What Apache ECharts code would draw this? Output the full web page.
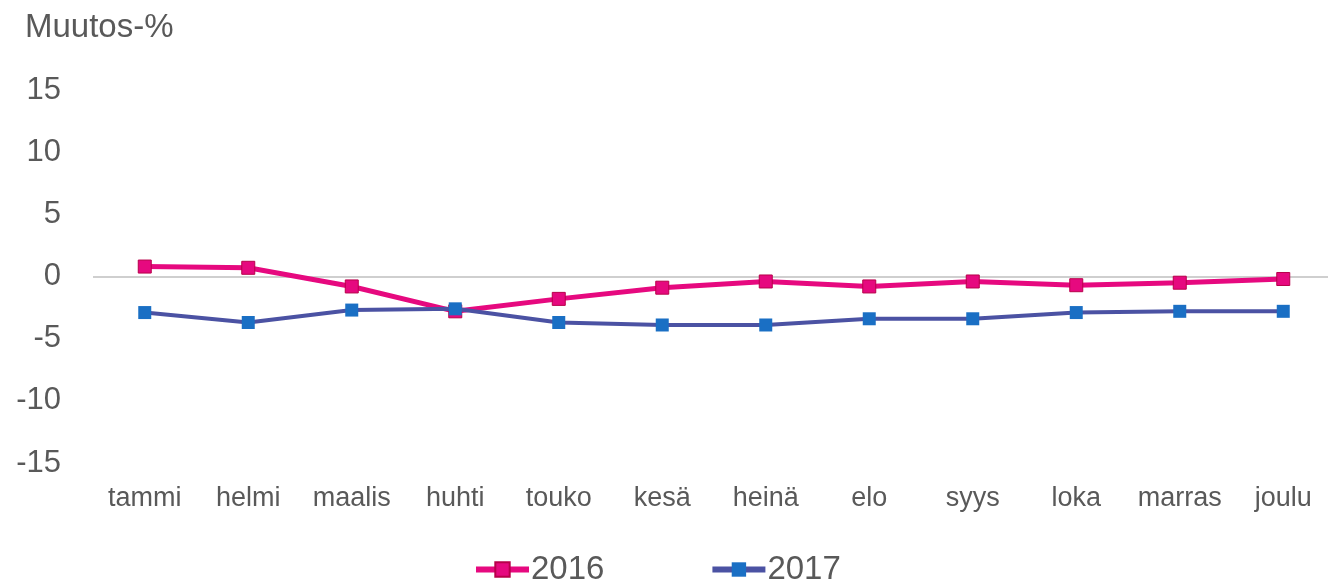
<!DOCTYPE html>
<html>
<head>
<meta charset="utf-8">
<script src="https://cdn.jsdelivr.net/npm/echarts@6/dist/echarts.min.js"></script>
<style>
  html, body { margin: 0; padding: 0; background: #fff; overflow: hidden; }
  /* plot runs slightly past the right edge of the window, as in the source */
  #chart { width: 1335px; height: 585px; }
</style>
</head>
<body>
<div id="chart"></div>
<script>
// month labels
const months = ['tammi', 'helmi', 'maalis', 'huhti', 'touko', 'kesä', 'heinä', 'elo', 'syys', 'loka', 'marras', 'joulu'];

// change-% values
const values2016 = [0.8, 0.7, -0.8, -2.8, -1.8, -0.9, -0.4, -0.8, -0.4, -0.7, -0.5, -0.2];
const values2017 = [-2.9, -3.7, -2.7, -2.6, -3.7, -3.9, -3.9, -3.4, -3.4, -2.9, -2.8, -2.8];

const yTicks = [-15, -10, -5, 0, 5, 10, 15];

const chart = echarts.init(document.getElementById('chart'));

const textColor = '#595959';
const font = 'Arial, "Liberation Sans", sans-serif';

const option = {
  backgroundColor: '#ffffff',
  animation: false,
  title: {
    text: 'Muutos-%',
    left: 20,
    top: 6,
    textStyle: { color: textColor, fontSize: 33, fontWeight: 'normal', fontFamily: font }
  },
  legend: {
    bottom: -1,
    left: 473,
    padding: 0,
    itemWidth: 53,
    itemHeight: 18,
    itemGap: 105,
    lineStyle: { width: 6 },
    textStyle: { color: textColor, fontSize: 33, fontFamily: font, padding: [0, 0, 0, -3] },
    data: ['2016', '2017']
  },
  grid: { left: 93, right: 0, top: 90, height: 373 },
  xAxis: {
    type: 'category',
    data: months,
    boundaryGap: true,
    axisLine: { show: false, onZero: false },
    axisTick: { show: false },
    axisLabel: { color: textColor, fontSize: 27, fontFamily: font, margin: 22, interval: 0 }
  },
  yAxis: {
    type: 'value',
    min: yTicks[0],
    max: yTicks[yTicks.length - 1],
    interval: 5,
    axisLine: { show: false },
    axisTick: { show: false },
    splitLine: { show: false },
    axisLabel: { color: textColor, fontSize: 31, fontFamily: font, margin: 32 }
  },
  series: [
    {
      name: '2016',
      type: 'line',
      data: values2016,
      symbol: 'rect',
      symbolSize: 13,
      lineStyle: { color: '#e6097f', width: 5 },
      itemStyle: { color: '#e6097f', borderColor: '#b8004a', borderWidth: 1 },
      markLine: {
        silent: true,
        symbol: 'none',
        label: { show: false },
        lineStyle: { color: '#bfbfbf', width: 1.5, type: 'solid' },
        data: [{ yAxis: 0 }],
        z: 1
      },
      z: 3
    },
    {
      name: '2017',
      type: 'line',
      data: values2017,
      symbol: 'rect',
      symbolSize: 13,
      lineStyle: { color: '#4b52a3', width: 4 },
      itemStyle: { color: '#1a6fc4', borderColor: '#1a6fc4', borderWidth: 0 },
      z: 4
    }
  ]
};

chart.setOption(option);
</script>
</body>
</html>
